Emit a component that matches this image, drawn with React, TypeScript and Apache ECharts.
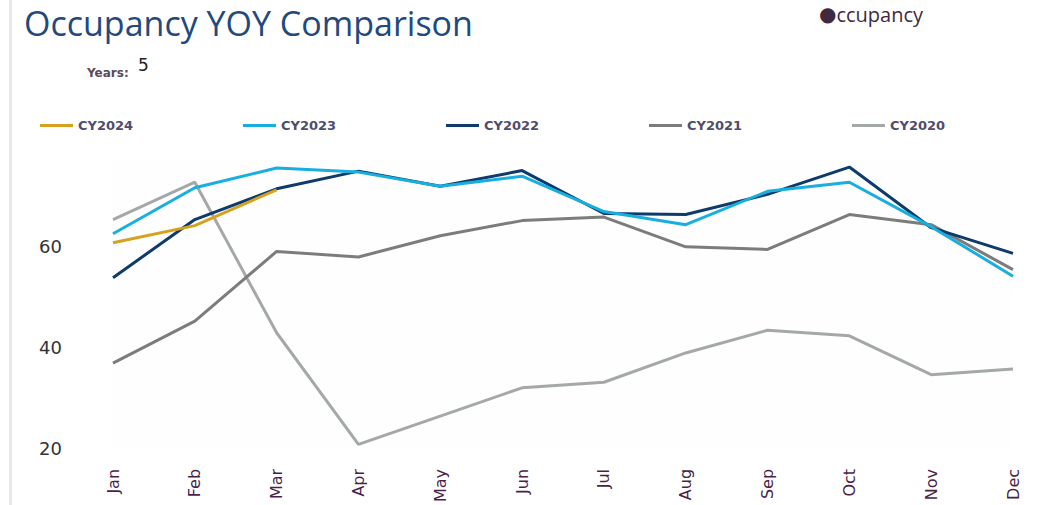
import React, { useEffect, useRef } from "react";
import * as echarts from "echarts";

const months = ["Jan", "Feb", "Mar", "Apr", "May", "Jun", "Jul", "Aug", "Sep", "Oct", "Nov", "Dec"];
const seriesNames = ["CY2024", "CY2023", "CY2022", "CY2021", "CY2020"];
const cy2024 = [60.8, 64.2, 71.3];
const cy2023 = [62.6, 71.7, 75.6, 74.8, 72.0, 74.0, 67.0, 64.4, 71.0, 72.8, 64.0, 54.2];
const cy2022 = [53.9, 65.4, 71.5, 75.0, 72.0, 75.1, 66.6, 66.4, 70.4, 75.8, 63.8, 58.7];
const cy2021 = [37.0, 45.3, 59.1, 58.0, 62.2, 65.2, 65.9, 60.0, 59.5, 66.4, 64.4, 55.5];
const cy2020 = [65.4, 72.8, 43.0, 20.9, 26.5, 32.1, 33.2, 39.0, 43.5, 42.4, 34.7, 35.8];
const yTicks = [20, 40, 60];

const colors: Record<string, string> = {
  CY2024: "#d6a21e",
  CY2023: "#17afe0",
  CY2022: "#0e3a6c",
  CY2021: "#7c7d7b",
  CY2020: "#a4a8a9",
};

export default function App() {
  const ref = useRef<HTMLDivElement>(null);
  useEffect(() => {
    if (!ref.current) return;
    const chart = echarts.init(ref.current, null, { renderer: "svg" });
    const dataMap: Record<string, number[]> = {
      CY2024: cy2024,
      CY2023: cy2023,
      CY2022: cy2022,
      CY2021: cy2021,
      CY2020: cy2020,
    };
    const drawOrder = ["CY2020", "CY2021", "CY2022", "CY2023", "CY2024"];
    chart.setOption({
      animation: false,
      backgroundColor: "#ffffff",
      grid: {
        left: 113,
        right: 28,
        top: 161,
        bottom: 56,
        show: true,
        backgroundColor: "#fefefe",
        borderWidth: 0,
      },
      legend: seriesNames.map((n, i) => ({
        data: [n],
        left: 35 + i * 203,
        top: 114,
        icon: "rect",
        itemWidth: 33,
        itemHeight: 3,
        itemGap: 5,
        textStyle: {
          fontFamily: "DejaVu Sans",
          fontSize: 13,
          fontWeight: 600,
          color: "#4f4d6c",
        },
      })),
      xAxis: {
        type: "category",
        data: months,
        boundaryGap: false,
        axisLine: { show: false },
        axisTick: { show: false },
        splitLine: { show: false },
        axisLabel: {
          rotate: 90,
          margin: 20,
          fontFamily: "DejaVu Sans",
          fontSize: 16,
          color: "#4a1f4a",
        },
      },
      yAxis: {
        type: "value",
        min: yTicks[0],
        max: 77,
        interval: 20,
        axisLine: { show: false },
        axisTick: { show: false },
        splitLine: { show: false },
        axisLabel: {
          showMaxLabel: false,
          margin: 51,
          fontFamily: "DejaVu Sans",
          fontSize: 18,
          color: "#333333",
          formatter: (v: number) => (yTicks.includes(v) ? String(v) : ""),
        },
      },
      series: drawOrder.map((n) => ({
        name: n,
        type: "line",
        data: dataMap[n],
        symbol: "none",
        lineStyle: { width: 3, color: colors[n] },
        itemStyle: { color: colors[n] },
      })),
      graphic: [
        {
          type: "rect",
          shape: { x: 9, y: 0, width: 3, height: 505 },
          style: { fill: "#e8e8e8" },
          silent: true,
        },
        {
          type: "text",
          x: 24,
          y: 23,
          style: {
            text: "Occupancy YOY Comparison",
            font: "34px 'Open Sans'",
            fill: "#22497e",
            verticalAlign: "middle",
          },
        },
        {
          type: "text",
          x: 87,
          y: 73,
          style: {
            text: "Years:",
            font: "bold 12px 'DejaVu Sans'",
            fill: "#5a4a5a",
            verticalAlign: "middle",
          },
        },
        {
          type: "text",
          x: 138,
          y: 65,
          style: {
            text: "5",
            font: "17px 'DejaVu Sans'",
            fill: "#222222",
            verticalAlign: "middle",
          },
        },
        {
          type: "text",
          x: 819,
          y: 14,
          style: {
            text: "{b|●}ccupancy",
            font: "20px 'Open Sans'",
            fill: "#3f2a3f",
            verticalAlign: "middle",
            rich: {
              b: { fontFamily: "DejaVu Sans", fontSize: 20, fill: "#3f2a3f", color: "#3f2a3f" },
            },
          },
        },
      ],
    });
    return () => chart.dispose();
  }, []);
  return (
    <div
      ref={ref}
      style={{ position: "fixed", left: 0, top: 0, width: 1041, height: 505 }}
    />
  );
}
